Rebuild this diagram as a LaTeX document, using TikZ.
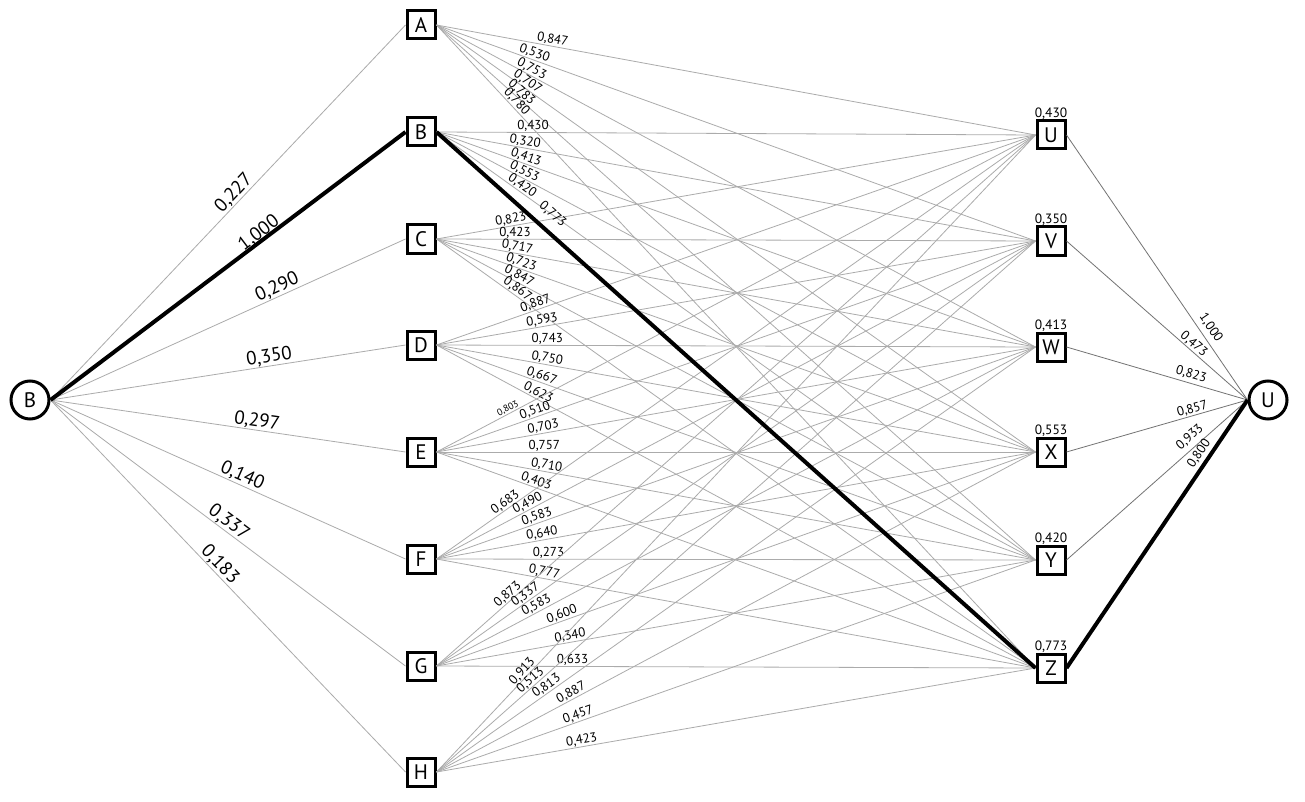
\documentclass[tikz,border=0pt]{standalone}
\usepackage{fontspec}
\setmainfont{PT Sans}
\begin{document}
\begin{tikzpicture}[x=1pt,y=-1pt,
  box/.style={draw=black, line width=3pt, minimum size=28pt, inner sep=0pt, font=\fontsize{21}{21}\selectfont},
  circ/.style={circle, draw=black, line width=3pt, minimum size=38pt, inner sep=0pt, font=\fontsize{21}{21}\selectfont},
  thin/.style={draw=black!33, line width=0.8pt},
  rthin/.style={draw=black!55, line width=0.8pt},
  bold/.style={draw=black, line width=4pt},
  lab/.style={sloped, above, inner sep=0.5pt, font=\fontsize{13}{13}\selectfont},
  smlab/.style={sloped, above, inner sep=0.5pt, font=\fontsize{9.5}{9.5}\selectfont},
  biglab/.style={sloped, above, inner sep=0.5pt, font=\fontsize{19}{19}\selectfont},
  toplab/.style={anchor=base, inner sep=0pt, font=\fontsize{13.5}{13.5}\selectfont}
]
\fill[white] (0,0) rectangle (1305,802);
\useasboundingbox (0,0) rectangle (1305,802);

% nodes
\node[circ] (S) at (30,400) {B};
\node[circ] (T) at (1268,400) {U};
\node[box] (A) at (421,25) {A};
\node[box] (B) at (421,132) {B};
\node[box] (C) at (421,239) {C};
\node[box] (D) at (421,345) {D};
\node[box] (E) at (421,452) {E};
\node[box] (F) at (421,559) {F};
\node[box] (G) at (421,666) {G};
\node[box] (H) at (421,772) {H};
\node[box] (U) at (1051,135) {U};
\node[box] (V) at (1051,241) {V};
\node[box] (W) at (1051,347) {W};
\node[box] (X) at (1051,452) {X};
\node[box] (Y) at (1051,560) {Y};
\node[box] (Z) at (1051,668) {Z};

% top labels of right boxes
\node[toplab] (tU) at ([yshift=2pt]U.north) {0,430};
\node[toplab] (tV) at ([yshift=2pt]V.north) {0,350};
\node[toplab] (tW) at ([yshift=2pt]W.north) {0,413};
\node[toplab] (tX) at ([yshift=2pt]X.north) {0,553};
\node[toplab] (tY) at ([yshift=2pt]Y.north) {0,420};
\node[toplab] (tZ) at ([yshift=2pt]Z.north) {0,773};

% source edges
\draw[thin] (S.east) -- (A.west) node[biglab, pos=.535] {0,227};
\draw[thin] (S.east) -- (C.west) node[biglab, pos=.649] {0,290};
\draw[thin] (S.east) -- (D.west) node[biglab, pos=.62] {0,350};
\draw[thin] (S.east) -- (E.west) node[biglab, pos=.578] {0,297};
\draw[thin] (S.east) -- (F.west) node[biglab, pos=.53] {0,140};
\draw[thin] (S.east) -- (G.west) node[biglab, pos=.487] {0,337};
\draw[thin] (S.east) -- (H.west) node[biglab, pos=.459] {0,183};

% middle edges
\draw[thin] (A.east) -- (U.west) node[lab, pos=.192] {0,847};
\draw[thin] (A.east) -- (V.west) node[lab, pos=.160] {0,530};
\draw[thin] (A.east) -- (W.west) node[lab, pos=.154] {0,753};
\draw[thin] (A.east) -- (X.west) node[lab, pos=.146] {0,707};
\draw[thin] (A.east) -- (Y.west) node[lab, pos=.135] {0,783};
\draw[thin] (A.east) -- (Z.west) node[lab, pos=.126] {0,780};

\draw[thin] (B.east) -- (U.west) node[lab, pos=.161] {0,430};
\draw[thin] (B.east) -- (V.west) node[lab, pos=.146] {0,320};
\draw[thin] (B.east) -- (W.west) node[lab, pos=.146] {0,413};
\draw[thin] (B.east) -- (X.west) node[lab, pos=.142] {0,553};
\draw[thin] (B.east) -- (Y.west) node[lab, pos=.137] {0,420};

\draw[thin] (C.east) -- (U.west) node[lab, pos=.126] {0,823};
\draw[thin] (C.east) -- (V.west) node[lab, pos=.131] {0,423};
\draw[thin] (C.east) -- (W.west) node[lab, pos=.133] {0,717};
\draw[thin] (C.east) -- (X.west) node[lab, pos=.138] {0,723};
\draw[thin] (C.east) -- (Y.west) node[lab, pos=.133] {0,847};
\draw[thin] (C.east) -- (Z.west) node[lab, pos=.129] {0,867};

\draw[thin] (D.east) -- (U.west) node[lab, pos=.169] {0,887};
\draw[thin] (D.east) -- (V.west) node[lab, pos=.178] {0,593};
\draw[thin] (D.east) -- (W.west) node[lab, pos=.185] {0,743};
\draw[thin] (D.east) -- (X.west) node[lab, pos=.183] {0,750};
\draw[thin] (D.east) -- (Y.west) node[lab, pos=.172] {0,667};
\draw[thin] (D.east) -- (Z.west) node[lab, pos=.165] {0,623};

\draw[thin] (E.east) -- (U.west) node[smlab, pos=.123] {0,803};
\draw[thin] (E.east) -- (V.west) node[lab, pos=.168] {0,510};
\draw[thin] (E.east) -- (W.west) node[lab, pos=.180] {0,703};
\draw[thin] (E.east) -- (X.west) node[lab, pos=.180] {0,757};
\draw[thin] (E.east) -- (Y.west) node[lab, pos=.182] {0,710};
\draw[thin] (E.east) -- (Z.west) node[lab, pos=.163] {0,403};

\draw[thin] (F.east) -- (U.west) node[lab, pos=.121] {0,683};
\draw[thin] (F.east) -- (V.west) node[lab, pos=.157] {0,490};
\draw[thin] (F.east) -- (W.west) node[lab, pos=.171] {0,583};
\draw[thin] (F.east) -- (X.west) node[lab, pos=.178] {0,640};
\draw[thin] (F.east) -- (Y.west) node[lab, pos=.187] {0,273};
\draw[thin] (F.east) -- (Z.west) node[lab, pos=.178] {0,777};

\draw[thin] (G.east) -- (U.west) node[lab, pos=.126] {0,873};
\draw[thin] (G.east) -- (V.west) node[lab, pos=.155] {0,337};
\draw[thin] (G.east) -- (W.west) node[lab, pos=.172] {0,583};
\draw[thin] (G.east) -- (X.west) node[lab, pos=.213] {0,600};
\draw[thin] (G.east) -- (Y.west) node[lab, pos=.225] {0,340};
\draw[thin] (G.east) -- (Z.west) node[lab, pos=.227] {0,633};

\draw[thin] (H.east) -- (U.west) node[lab, pos=.151] {0,913};
\draw[thin] (H.east) -- (V.west) node[lab, pos=.164] {0,513};
\draw[thin] (H.east) -- (W.west) node[lab, pos=.190] {0,813};
\draw[thin] (H.east) -- (X.west) node[lab, pos=.230] {0,887};
\draw[thin] (H.east) -- (Y.west) node[lab, pos=.240] {0,457};
\draw[thin] (H.east) -- (Z.west) node[lab, pos=.244] {0,423};

% right edges
\draw[rthin] (U.east) -- (T.west) node[lab, pos=.75, above=4pt] {1,000};
\draw[rthin] (V.east) -- (T.west) node[lab, pos=.68] {0,473};
\draw[rthin] (W.east) -- (T.west) node[lab, pos=.676, above=2pt] {0,823};
\draw[rthin] (X.east) -- (T.west) node[lab, pos=.705] {0,857};
\draw[rthin] (Y.east) -- (T.west) node[lab, pos=.72, above=4pt] {0,933};

% bold path
\draw[bold] (S.east) -- (B.west) node[biglab, pos=.60, above=-3pt] {1,000};
\draw[bold] (B.east) -- (Z.west) node[lab, pos=.176, above=8pt] {0,773};
\draw[bold] (Z.east) -- (T.west) node[lab, pos=.778, above=2pt] {0,800};
\end{tikzpicture}
\end{document}
